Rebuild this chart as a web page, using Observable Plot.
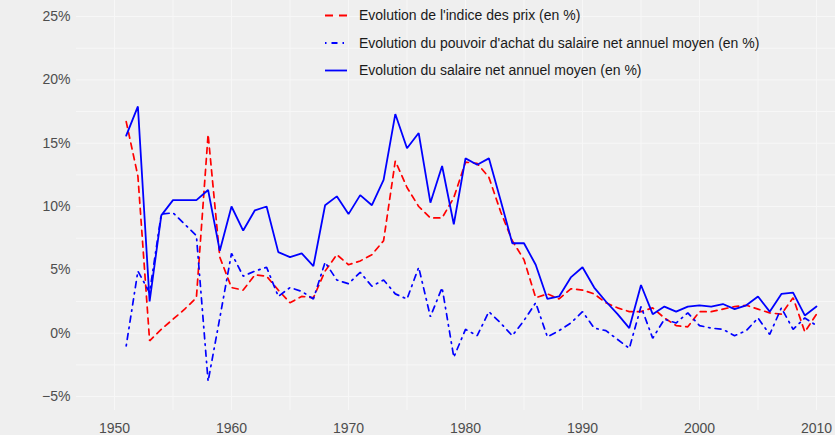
<!DOCTYPE html>
<html>
<head>
<meta charset="utf-8">
<script src="https://cdn.jsdelivr.net/npm/d3@7"></script>
<script src="https://cdn.jsdelivr.net/npm/@observablehq/plot@0.6"></script>
<style>
  html, body { margin: 0; padding: 0; background: #efefef; }
  #wrap { position: relative; width: 835px; height: 435px; overflow: hidden; }
  #legend { position: absolute; left: 0; top: 0; pointer-events: none; }
</style>
</head>
<body>
<div id="wrap"></div>
<script>
const years = d3.range(1951, 2011);

const salaire = [15.6, 17.9, 2.5, 9.3, 10.5, 10.5, 10.5, 11.3, 6.5, 10.0,
  8.1, 9.7, 10.0, 6.4, 6.0, 6.3, 5.3, 10.1, 10.8, 9.4,
  10.9, 10.1, 12.1, 17.3, 14.6, 15.8, 10.3, 13.2, 8.6, 13.8,
  13.3, 13.8, 10.5, 7.1, 7.1, 5.4, 2.7, 2.9, 4.4, 5.2,
  3.6, 2.5, 1.5, 0.4, 3.8, 1.5, 2.1, 1.7, 2.1, 2.2,
  2.1, 2.3, 1.9, 2.2, 2.9, 1.7, 3.1, 3.2, 1.4, 2.1];

const prix = [16.7, 12.4, -0.6, 0.3, 1.1, 1.9, 2.8, 15.7, 6.0, 3.6,
  3.4, 4.6, 4.5, 3.4, 2.4, 2.9, 2.8, 4.9, 6.2, 5.4,
  5.7, 6.2, 7.3, 13.6, 11.5, 10.0, 9.1, 9.1, 10.7, 13.5,
  13.4, 12.3, 9.6, 7.3, 5.8, 2.8, 3.1, 2.7, 3.5, 3.4,
  3.1, 2.4, 2.0, 1.7, 1.7, 2.0, 1.2, 0.6, 0.5, 1.7,
  1.7, 1.9, 2.1, 2.2, 1.9, 1.6, 1.5, 2.8, 0.1, 1.5];

const pouvoir = [-1.0, 4.9, 3.2, 9.4, 9.5, 8.6, 7.7, -3.8, 1.2, 6.3,
  4.5, 4.9, 5.2, 2.9, 3.6, 3.3, 2.7, 5.6, 4.2, 3.9,
  4.8, 3.7, 4.2, 3.1, 2.7, 5.2, 1.3, 3.6, -1.9, 0.3,
  -0.2, 1.7, 0.8, -0.2, 1.0, 2.4, -0.3, 0.2, 0.8, 1.7,
  0.4, 0.2, -0.5, -1.2, 2.1, -0.4, 1.1, 0.8, 1.6, 0.6,
  0.4, 0.3, -0.2, 0.2, 1.2, -0.1, 2.0, 0.3, 1.2, 0.6];

const seriesNames = [
  "Evolution de l'indice des prix (en %)",
  "Evolution du pouvoir d'achat du salaire net annuel moyen (en %)",
  "Evolution du salaire net annuel moyen (en %)"
];

const xTicks = [1950, 1960, 1970, 1980, 1990, 2000, 2010];
const yTicks = [-5, 0, 5, 10, 15, 20, 25];
const xGrid = d3.range(1950, 2011, 5);
const yGrid = d3.range(-5, 25.1, 2.5);

const rows = (vals) => years.map((y, i) => ({year: y, value: vals[i]}));

const fmtY = d => (d < 0 ? "\u2212" + Math.abs(d) : String(d)) + "%";

const chart = Plot.plot({
  width: 835,
  height: 435,
  marginLeft: 76,
  marginRight: 0,
  marginTop: 0,
  marginBottom: 25,
  style: {background: "#efefef", fontFamily: "'Liberation Sans', Helvetica, Arial, sans-serif", fontSize: "14px", color: "#4d4d4d"},
  x: {domain: [1950, 2010], range: [114, 816]},
  y: {domain: [-5, 25], range: [396, 16]},
  marks: [
    Plot.ruleY(yGrid, {stroke: "#f7f7f7", strokeWidth: 1}),
    Plot.ruleX(xGrid, {stroke: "#f7f7f7", strokeWidth: 1}),
    Plot.axisY({ticks: yTicks, tickSize: 0, tickPadding: 6, tickFormat: fmtY, label: null}),
    Plot.axisX({ticks: xTicks, tickSize: 0, tickPadding: 13, tickFormat: d => String(d), label: null}),
    Plot.line(rows(prix), {x: "year", y: "value", stroke: "#ff0000", strokeWidth: 1.7, strokeDasharray: "6,5", strokeLinejoin: "miter"}),
    Plot.line(rows(pouvoir), {x: "year", y: "value", stroke: "#0000ff", strokeWidth: 1.7, strokeDasharray: "1.5,5,6,5", strokeLinejoin: "miter"}),
    Plot.line(rows(salaire), {x: "year", y: "value", stroke: "#0000ff", strokeWidth: 1.8, strokeLinejoin: "miter"})
  ]
});

const wrap = document.getElementById("wrap");
wrap.appendChild(chart);

// legend overlay
const ns = "http://www.w3.org/2000/svg";
const leg = document.createElementNS(ns, "svg");
leg.setAttribute("id", "legend");
leg.setAttribute("width", 835);
leg.setAttribute("height", 90);
const styles = [
  {stroke: "#ff0000", dash: "8,6"},
  {stroke: "#0000ff", dash: "1.5,5,6,5"},
  {stroke: "#0000ff", dash: null}
];
const rowY = [15.5, 43, 70.5];
seriesNames.forEach((name, i) => {
  const l = document.createElementNS(ns, "line");
  l.setAttribute("x1", 325); l.setAttribute("x2", 347);
  l.setAttribute("y1", rowY[i]); l.setAttribute("y2", rowY[i]);
  l.setAttribute("stroke", styles[i].stroke);
  l.setAttribute("stroke-width", 1.8);
  if (styles[i].dash) l.setAttribute("stroke-dasharray", styles[i].dash);
  leg.appendChild(l);
  const t = document.createElementNS(ns, "text");
  t.setAttribute("x", 359);
  t.setAttribute("y", rowY[i]);
  t.setAttribute("dy", "0.35em");
  t.setAttribute("fill", "#1a1a1a");
  t.setAttribute("font-family", "'Liberation Sans', Helvetica, Arial, sans-serif");
  t.setAttribute("font-size", "14px");
  t.textContent = name;
  leg.appendChild(t);
});
wrap.appendChild(leg);
</script>
</body>
</html>
